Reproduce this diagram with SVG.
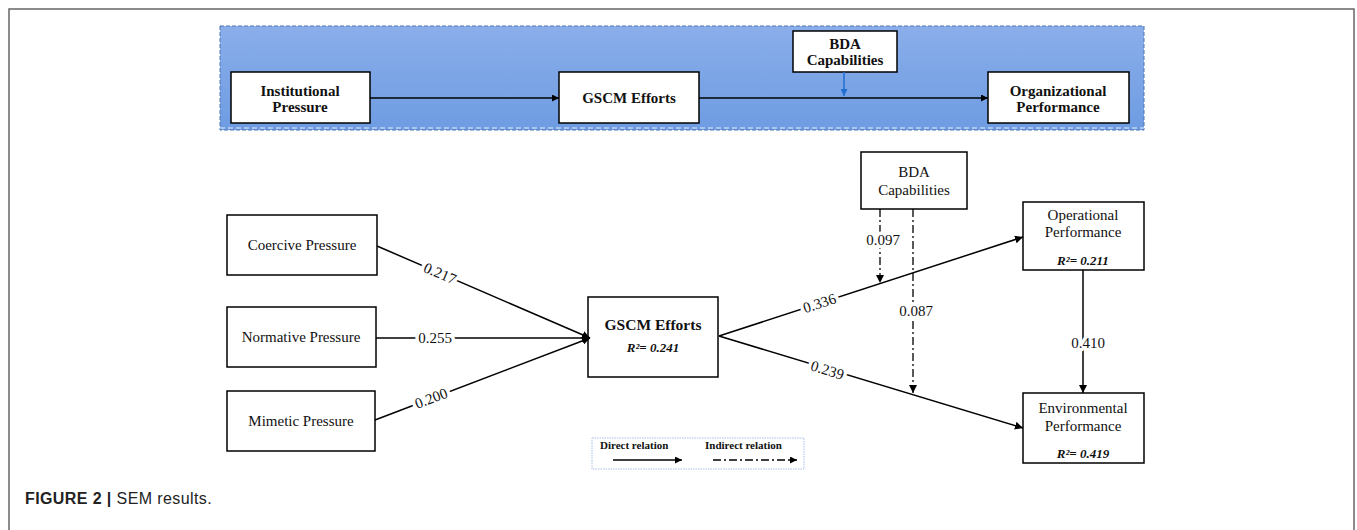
<svg xmlns="http://www.w3.org/2000/svg" width="1357" height="530" viewBox="0 0 1357 530">
<defs>
<linearGradient id="blueg" x1="0" y1="0" x2="0" y2="1">
<stop offset="0" stop-color="#8aaeea"/>
<stop offset="1" stop-color="#6e9ce2"/>
</linearGradient>
<marker id="ah" viewBox="0 0 10 10" refX="10" refY="5" markerWidth="8" markerHeight="8" markerUnits="userSpaceOnUse" orient="auto">
<path d="M0,0 L10,5 L0,10 z" fill="#000"/>
</marker>
<marker id="ahs" viewBox="0 0 10 10" refX="10" refY="5" markerWidth="7" markerHeight="7" markerUnits="userSpaceOnUse" orient="auto">
<path d="M0,0 L10,5 L0,10 z" fill="#000"/>
</marker>
<marker id="ahb" viewBox="0 0 10 10" refX="10" refY="5" markerWidth="7" markerHeight="7" markerUnits="userSpaceOnUse" orient="auto">
<path d="M0,0 L10,5 L0,10 z" fill="#1f6fd0"/>
</marker>
</defs>
<style>
.box{fill:#fff;stroke:#000;stroke-width:1.5}
.tb{font-family:"Liberation Serif","Times New Roman",serif;font-weight:bold;font-size:15px;fill:#111;text-anchor:middle}
.t{font-family:"Liberation Serif","Times New Roman",serif;font-size:15px;fill:#111;text-anchor:middle}
.r2{font-family:"Liberation Serif","Times New Roman",serif;font-size:13px;font-weight:bold;font-style:italic;fill:#111;text-anchor:middle}
.lbl{font-family:"Liberation Serif","Times New Roman",serif;font-size:15px;fill:#111;text-anchor:middle;stroke:#fff;stroke-width:7;paint-order:stroke;stroke-linejoin:round}
.ln{stroke:#000;stroke-width:1.5;fill:none}
.dd{stroke:#000;stroke-width:1.3;fill:none;stroke-dasharray:8,3,2,3}
.lg{font-family:"Liberation Serif","Times New Roman",serif;font-weight:bold;font-size:11px;fill:#111}
.cap{font-family:"Liberation Sans",Arial,sans-serif;font-size:16px;letter-spacing:0.4px;fill:#222}
</style>
<rect x="9" y="9" width="1345" height="540" fill="#fff" stroke="#666" stroke-width="1.5"/>
<g id="framework">
<rect x="220" y="26" width="924" height="104" fill="url(#blueg)" stroke="#4f74ad" stroke-width="1" stroke-dasharray="4,2"/>
<line x1="220" y1="128" x2="1144" y2="128" stroke="#e6eefa" stroke-width="1" stroke-dasharray="5,3"/>
</g>
<g id="top-institutional"><rect class="box" x="231" y="72" width="139" height="51"/><text class="tb" x="300" y="96">Institutional</text><text class="tb" x="300" y="112">Pressure</text></g>
<g id="top-gscm"><rect class="box" x="559" y="72" width="140" height="51"/><text class="tb" x="629" y="103">GSCM Efforts</text></g>
<g id="top-bda"><rect class="box" x="793" y="31" width="104" height="41"/><text class="tb" x="845" y="49">BDA</text><text class="tb" x="845" y="65">Capabilities</text></g>
<g id="top-org"><rect class="box" x="988" y="72" width="141" height="51"/><text class="tb" x="1058" y="96">Organizational</text><text class="tb" x="1058" y="112">Performance</text></g>
<g id="coercive"><rect class="box" x="227" y="215" width="150" height="60"/><text class="t" x="302" y="250">Coercive Pressure</text></g>
<g id="normative"><rect class="box" x="227" y="307" width="149" height="60"/><text class="t" x="301" y="342">Normative Pressure</text></g>
<g id="mimetic"><rect class="box" x="227" y="391" width="148" height="60"/><text class="t" x="301" y="426">Mimetic Pressure</text></g>
<g id="gscm"><rect class="box" x="588" y="297" width="130" height="80"/><text class="tb" x="653" y="330" style="font-size:15.5px">GSCM Efforts</text><text class="r2" x="653" y="352">R²= 0.241</text></g>
<g id="bda"><rect class="box" x="861" y="152" width="106" height="57"/><text class="t" x="914" y="177">BDA</text><text class="t" x="914" y="195">Capabilities</text></g>
<g id="operational"><rect class="box" x="1023" y="202" width="121" height="68"/><text class="t" x="1083" y="220">Operational</text><text class="t" x="1083" y="237">Performance</text><text class="r2" x="1083" y="265">R²= 0.211</text></g>
<g id="environmental"><rect class="box" x="1023" y="393" width="121" height="70"/><text class="t" x="1083" y="413">Environmental</text><text class="t" x="1083" y="431">Performance</text><text class="r2" x="1083" y="458">R²= 0.419</text></g>
<g id="connectors">
<line class="ln" x1="370" y1="98" x2="559" y2="98" marker-end="url(#ahs)" stroke-width="1.3"/>
<line class="ln" x1="699" y1="98" x2="988" y2="98" marker-end="url(#ahs)" stroke-width="1.3"/>
<line x1="844" y1="72" x2="844" y2="96" stroke="#1f6fd0" stroke-width="1.5" marker-end="url(#ahb)"/>
<line class="ln" x1="377" y1="246" x2="590" y2="338" marker-end="url(#ah)"/>
<line class="ln" x1="376" y1="338" x2="590" y2="338" marker-end="url(#ah)"/>
<line class="ln" x1="375" y1="420" x2="590" y2="338" marker-end="url(#ah)"/>
<line class="ln" x1="719" y1="336" x2="1023" y2="237" marker-end="url(#ah)"/>
<line class="ln" x1="719" y1="336" x2="1023" y2="428" marker-end="url(#ah)"/>
<line class="ln" x1="1083" y1="270" x2="1083" y2="393" marker-end="url(#ah)" stroke-width="1.2"/>
<line class="dd" x1="880" y1="209" x2="880" y2="283" marker-end="url(#ah)"/>
<line class="dd" x1="913" y1="209" x2="913" y2="393" marker-end="url(#ah)"/>
<text class="lbl" transform="translate(438,278) rotate(23)">0.217</text>
<text class="lbl" x="435" y="343">0.255</text>
<text class="lbl" transform="translate(433,403) rotate(-21)">0.200</text>
<text class="lbl" transform="translate(821,308) rotate(-18)">0.336</text>
<text class="lbl" transform="translate(826,375) rotate(17)">0.239</text>
<text class="lbl" x="883" y="245">0.097</text>
<text class="lbl" x="916" y="316">0.087</text>
<text class="lbl" x="1088" y="348">0.410</text>
</g>
<g id="legend">
<rect x="592" y="438" width="212" height="31" fill="#fff" stroke="#a9c0e8" stroke-width="1" stroke-dasharray="1.5,1"/>
<text class="lg" x="600" y="449">Direct relation</text>
<text class="lg" x="705" y="449">Indirect relation</text>
<line class="ln" x1="613" y1="460" x2="682" y2="460" marker-end="url(#ahs)" stroke-width="1.3"/>
<line class="dd" x1="713" y1="460" x2="797" y2="460" marker-end="url(#ahs)" stroke-dasharray="5,3,2,3"/>
</g>
<text class="cap" x="25" y="504"><tspan font-weight="bold">FIGURE 2 | </tspan>SEM results.</text>
</svg>
